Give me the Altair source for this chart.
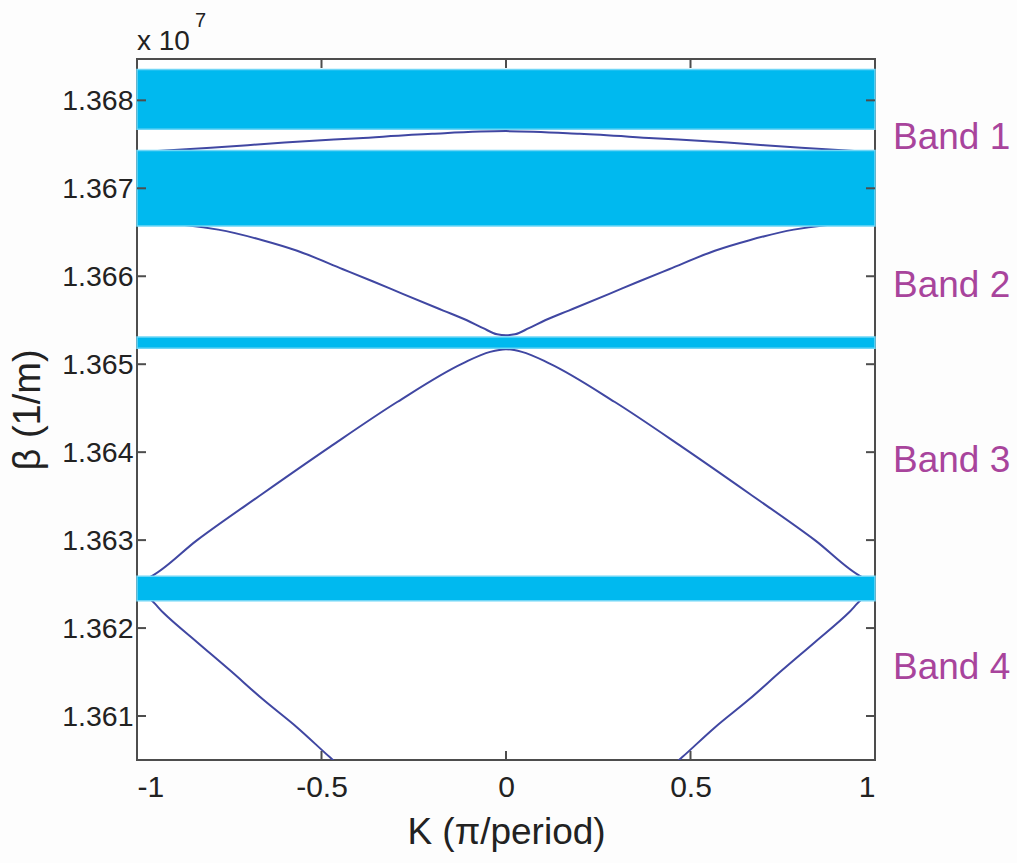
import altair as alt
import pandas as pd

# ---- data (beta in units of 1e7 1/m) ----
K_top = [-1, -0.8, -0.6, -0.4, -0.2, 0, 0.2, 0.4, 0.6, 0.8, 1]
B_top = [1.36741, 1.36746, 1.36752, 1.36757, 1.36762, 1.36765, 1.36762, 1.36757, 1.36752, 1.36746, 1.36741]

K_b2 = [-1, -0.865, -0.78, -0.66, -0.566, -0.442, -0.36, -0.28, -0.17, -0.106, -0.062, -0.024, 0,
        0.024, 0.062, 0.106, 0.17, 0.28, 0.36, 0.442, 0.566, 0.66, 0.78, 0.865, 1]
B_b2 = [1.36661, 1.36658, 1.36653, 1.36641, 1.36629, 1.36608, 1.36594, 1.36580, 1.36561, 1.36550, 1.36541, 1.36534, 1.36533,
        1.36534, 1.36541, 1.36550, 1.36561, 1.36580, 1.36594, 1.36608, 1.36629, 1.36641, 1.36653, 1.36658, 1.36661]

K_b3 = [-1, -0.965, -0.837, -0.659, -0.477, -0.295, -0.117, -0.043, 0,
        0.043, 0.117, 0.295, 0.477, 0.659, 0.837, 0.965, 1]
B_b3 = [1.36252, 1.36258, 1.36300, 1.36353, 1.36406, 1.36457, 1.36501, 1.36514, 1.36517,
        1.36514, 1.36501, 1.36457, 1.36406, 1.36353, 1.36300, 1.36258, 1.36252]

K_b4L = [-1, -0.965, -0.93, -0.837, -0.748, -0.659, -0.566, -0.477, -0.4]
B_b4L = [1.36239, 1.36233, 1.36218, 1.36184, 1.36152, 1.36119, 1.36087, 1.36053, 1.36025]
K_b4R = [0.4, 0.477, 0.566, 0.659, 0.748, 0.837, 0.93, 0.965, 1]
B_b4R = [1.36025, 1.36053, 1.36087, 1.36119, 1.36152, 1.36184, 1.36218, 1.36233, 1.36239]

gap_top = [1.36835, 1.36743, 1.36531, 1.36259]
gap_bot = [1.36767, 1.36657, 1.36518, 1.36231]

band_names = ["Band 1", "Band 2", "Band 3", "Band 4"]
band_pos = [1.36757, 1.36589, 1.36390, 1.36155]

y_ticks = [1.361, 1.362, 1.363, 1.364, 1.365, 1.366, 1.367, 1.368]
x_ticks = [-1, -0.5, 0, 0.5, 1]

W, H = 738, 701
LINE_COLOR = "#4047A2"
BAND_COLOR = "#00B9EF"
FONT = "Liberation Sans, Arial, sans-serif"

rows = []
for name, ks, bs in [("top", K_top, B_top), ("b2", K_b2, B_b2), ("b3", K_b3, B_b3),
                     ("b4L", K_b4L, B_b4L), ("b4R", K_b4R, B_b4R)]:
    for k, b in zip(ks, bs):
        rows.append({"K": k, "beta": b, "curve": name})
curves = pd.DataFrame(rows)
gaps = pd.DataFrame({"y1": gap_top, "y2": gap_bot})
bands = pd.DataFrame({"name": band_names, "beta": band_pos})
yt = pd.DataFrame({"beta": y_ticks})
xt = pd.DataFrame({"K": x_ticks})

xscale = alt.Scale(domain=[-1, 1], nice=False, zero=False)
yscale = alt.Scale(domain=[1.3605, 1.36847], nice=False, zero=False)

xaxis = alt.Axis(values=x_ticks, labelExpr="'' + datum.value", title="K (\u03c0/period)",
                 labelFontSize=30, labelFont=FONT, labelColor="#222222", labelPadding=12,
                 titleFontSize=37, titleFont=FONT, titleColor="#222222",
                 titleFontWeight="normal", titlePadding=12, domain=False, ticks=False, grid=False)
yaxis = alt.Axis(values=y_ticks, format=".3f", title="\u03b2  (1/m)",
                 labelFontSize=28.5, labelFont=FONT, labelColor="#222222", labelPadding=4,
                 titleFontSize=38, titleFont=FONT, titleColor="#222222",
                 titleFontWeight="normal", titlePadding=14, domain=False, ticks=False, grid=False)

lines = alt.Chart(curves).mark_line(color=LINE_COLOR, strokeWidth=2, clip=True, interpolate="monotone").encode(
    x=alt.X("K:Q", scale=xscale, axis=xaxis),
    y=alt.Y("beta:Q", scale=yscale, axis=yaxis),
    detail="curve:N",
    order="K:Q",
)

rects = alt.Chart(gaps).mark_rect(color=BAND_COLOR, stroke="#6FD6F6", strokeWidth=1.5).encode(
    x=alt.value(0), x2=alt.value(W),
    y=alt.Y("y1:Q", scale=yscale), y2="y2:Q",
)

tick_l = alt.Chart(yt).mark_rule(color="#4d4d4d", strokeWidth=2).encode(
    y=alt.Y("beta:Q", scale=yscale), x=alt.value(0), x2=alt.value(9))
tick_r = alt.Chart(yt).mark_rule(color="#4d4d4d", strokeWidth=2).encode(
    y=alt.Y("beta:Q", scale=yscale), x=alt.value(W - 9), x2=alt.value(W))
tick_b = alt.Chart(xt).mark_rule(color="#4d4d4d", strokeWidth=2).encode(
    x=alt.X("K:Q", scale=xscale), y=alt.value(H), y2=alt.value(H - 9))
tick_t = alt.Chart(xt).mark_rule(color="#4d4d4d", strokeWidth=2).encode(
    x=alt.X("K:Q", scale=xscale), y=alt.value(0), y2=alt.value(9))

band_text = alt.Chart(bands).mark_text(align="left", baseline="middle", fontSize=37,
                                       font=FONT, color="#A8449C").encode(
    x=alt.value(W + 18), y=alt.Y("beta:Q", scale=yscale), text="name:N")

exp_base = alt.Chart(pd.DataFrame({"t": ["x 10"]})).mark_text(
    align="left", baseline="alphabetic", fontSize=28, font=FONT, color="#222222").encode(
    x=alt.value(0), y=alt.value(-9), text="t:N")
exp_sup = alt.Chart(pd.DataFrame({"t": ["7"]})).mark_text(
    align="left", baseline="alphabetic", fontSize=20, font=FONT, color="#222222").encode(
    x=alt.value(58), y=alt.value(-32), text="t:N")

chart = alt.layer(lines, rects, tick_l, tick_r, tick_b, tick_t, band_text, exp_base, exp_sup).properties(
    width=W, height=H,
    autosize=alt.AutoSizeParams(type="none"),
    padding={"left": 137, "top": 59, "right": 142, "bottom": 103},
    background="#FDFDFD",
).configure_view(stroke="#4d4d4d", strokeWidth=2, fill="white")

chart.save("out.html", embed_options={"renderer": "svg", "actions": False})
